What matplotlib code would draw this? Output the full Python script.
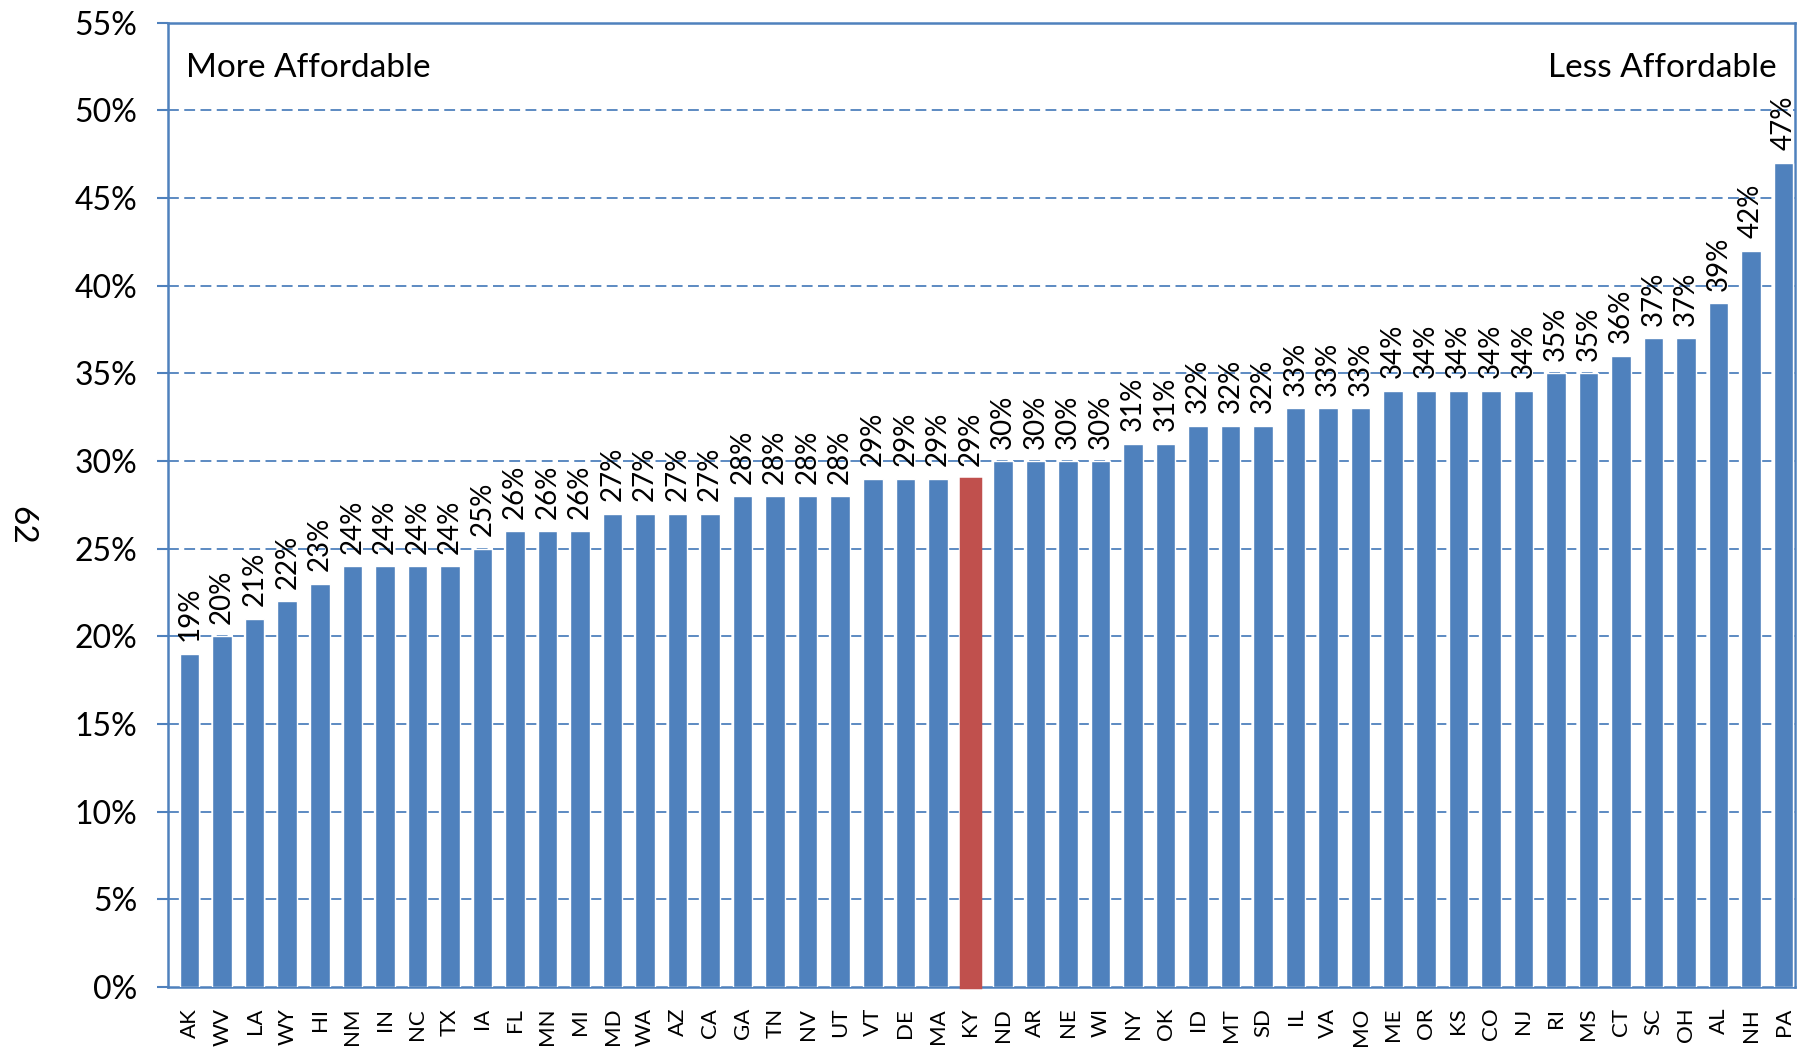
import matplotlib
matplotlib.use('Agg')
from matplotlib import pyplot as plt

# estados y porcentaje
estados = ['AK', 'WV', 'LA', 'WY', 'HI', 'NM', 'IN', 'NC', 'TX', 'IA',
           'FL', 'MN', 'MI', 'MD', 'WA', 'AZ', 'CA', 'GA', 'TN', 'NV',
           'UT', 'VT', 'DE', 'MA', 'KY', 'ND', 'AR', 'NE', 'WI', 'NY',
           'OK', 'ID', 'MT', 'SD', 'IL', 'VA', 'MO', 'ME', 'OR', 'KS',
           'CO', 'NJ', 'RI', 'MS', 'CT', 'SC', 'OH', 'AL', 'NH', 'PA']
valores = [19, 20, 21, 22, 23, 24, 24, 24, 24, 25,
           26, 26, 26, 27, 27, 27, 27, 28, 28, 28,
           28, 29, 29, 29, 29, 30, 30, 30, 30, 31,
           31, 32, 32, 32, 33, 33, 33, 34, 34, 34,
           34, 34, 35, 35, 36, 37, 37, 39, 42, 47]
destacado = 'KY'
yticks = list(range(0, 56, 5))

azul = '#4F81BD'
rojo = '#C0504D'

plt.rcParams['font.family'] = ['Lato', 'DejaVu Sans']

fig = plt.figure(figsize=(18.1, 10.48), dpi=100)
ax = fig.add_axes([0.0928, 0.0582, 0.9917 - 0.0928, 0.9783 - 0.0582])

x = list(range(len(estados)))
colores = [rojo if e == destacado else azul for e in estados]
bordes = [rojo if e == destacado else 'white' for e in estados]
anchos = [2.5 if e == destacado else 1 for e in estados]
barras = ax.bar(x, valores, width=0.6, color=colores, edgecolor=bordes,
                linewidth=anchos, zorder=3)
barras[estados.index(destacado)].set_clip_on(False)

for xi, v in zip(x, valores):
    ax.annotate('%d%%' % v, (xi, v), xytext=(0, 9), textcoords='offset points',
                rotation=90, ha='center', va='bottom', fontsize=20, zorder=4)

ax.set_xlim(-0.667, 49.35)
ax.set_ylim(0, 55)
ax.set_yticks(yticks)
ax.set_yticklabels(['%d%%' % t for t in yticks], fontsize=23)
ax.set_xticks(x)
ax.set_xticklabels(estados, rotation=90, fontsize=16)
ax.tick_params(axis='x', length=0, pad=15)
ax.tick_params(axis='y', length=8, width=1.5, color=azul, pad=14)

for t in yticks[1:]:
    ax.axhline(t, color=azul, lw=1.3, dashes=(6, 3), zorder=2)

for s in ax.spines.values():
    s.set_color(azul)
    s.set_linewidth(1.8)

ax.text(0.011, 0.953, 'More Affordable', transform=ax.transAxes,
        fontsize=24, ha='left', va='center')
ax.text(0.989, 0.953, 'Less Affordable', transform=ax.transAxes,
        fontsize=24, ha='right', va='center')

fig.text(21 / 1810, 1 - 525 / 1048, '62', rotation=270, fontsize=24,
         ha='center', va='center')

fig.savefig('out.png', dpi=100)
